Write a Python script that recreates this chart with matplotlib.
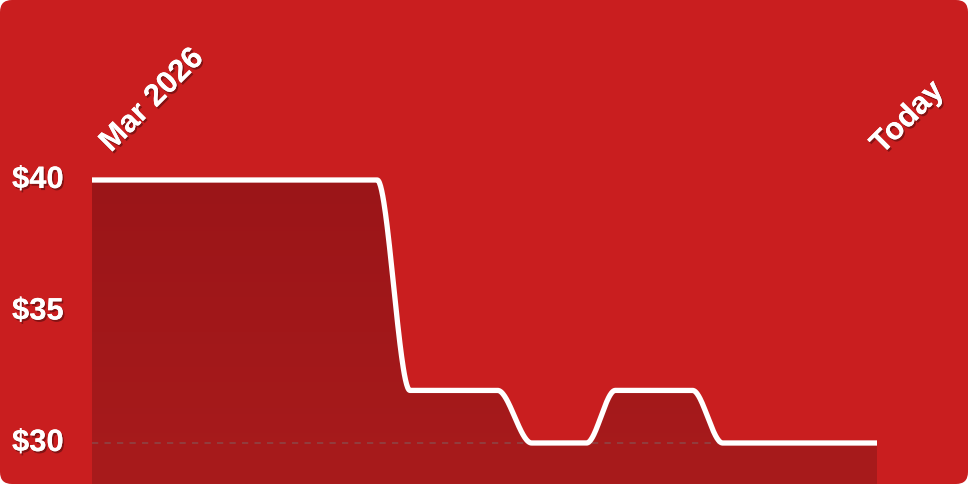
import numpy as np
import matplotlib
matplotlib.use("Agg")
from matplotlib import pyplot as plt
from matplotlib import patheffects as pe
from matplotlib.patches import FancyBboxPatch
from matplotlib.transforms import IdentityTransform, blended_transform_factory
from matplotlib.colors import LinearSegmentedColormap

plt.rcParams['font.family'] = ['Liberation Sans', 'DejaVu Sans']
plt.rcParams['lines.scale_dashes'] = False

# price history (days since start of Mar 2026)
days = [0, 21.8, 24.3, 31.0, 33.6, 37.8, 40.0, 45.9, 48.2, 60]
price = [40, 40, 32, 32, 30, 30, 32, 32, 30, 30]
tick_values = [40, 35, 30]
tick_labels = ["$40", "$35", "$30"]
start_label = "Mar 2026"
end_label = "Today"

BG = "#c91e1f"
W, H, DPI = 968, 484, 100
FS = 22.3


def monotone(x, y, n=60):
    # monotone cubic interpolation (like d3 curveMonotoneX)
    x = np.asarray(x, float); y = np.asarray(y, float)
    h = np.diff(x); s = np.diff(y) / h
    m = np.zeros_like(y)
    for i in range(1, len(y) - 1):
        if s[i-1] * s[i] > 0:
            m[i] = 2 / (1 / s[i-1] + 1 / s[i])
    m[0] = s[0]; m[-1] = s[-1]
    xs, ys = [], []
    for i in range(len(h)):
        t = np.linspace(0, 1, n)
        h00 = 2*t**3 - 3*t**2 + 1; h10 = t**3 - 2*t**2 + t
        h01 = -2*t**3 + 3*t**2; h11 = t**3 - t**2
        xs.append(x[i] + t*h[i])
        ys.append(h00*y[i] + h10*h[i]*m[i] + h01*y[i+1] + h11*h[i]*m[i+1])
    return np.concatenate(xs), np.concatenate(ys)


fig = plt.figure(figsize=(W/DPI, H/DPI), dpi=DPI, facecolor="white")
fig.patches.append(FancyBboxPatch((0, 0), W, H, boxstyle="round,pad=0,rounding_size=12",
                                  transform=IdentityTransform(), facecolor=BG, edgecolor="none",
                                  figure=fig, zorder=-10))

ax = fig.add_axes([0, 0, 1, 1])
ax.set_facecolor("none")
ax.axis("off")

# map pixel layout: x 92..877 px, $40 at 180 px, $30 at 443 px from top
px_day = (877 - 92) / (days[-1] - days[0])
ax.set_xlim(days[0] - 92/px_day, days[-1] + (W - 877)/px_day)
px_unit = (443 - 180) / 10
ax.set_ylim(30 - (H - 443)/px_unit, 40 + 180/px_unit)
y0 = ax.get_ylim()[0]

xs, ys = monotone(days, price)

fill = ax.fill_between(xs, ys, y0, facecolor="none", edgecolor="none")
cmap = LinearSegmentedColormap.from_list("f", ["#a81b1c", "#9b1518"])
grad = np.linspace(0, 1, 256).reshape(-1, 1)
img = ax.imshow(grad, cmap=cmap, aspect="auto", origin="lower",
                extent=[days[0], days[-1], y0, max(price)], zorder=1)
img.set_clip_path(fill.get_paths()[0], transform=ax.transData)

ax.plot([days[0], days[-1]], [30, 30], color="#8e4444", lw=1.2, dashes=[4.5, 4.5], zorder=2)

ax.plot(xs, ys, color="white", lw=3.8, solid_capstyle="butt", solid_joinstyle="round", zorder=3)

shadow = [pe.withSimplePatchShadow(offset=(1.2, -1.5), shadow_rgbFace="black", alpha=0.35), pe.Normal()]
trans = blended_transform_factory(fig.transFigure, ax.transData)
for v, lab in zip(tick_values, tick_labels):
    ax.text(12/W, v, lab, transform=trans, ha="left", va="center", color="white",
            fontsize=FS, fontweight="bold", path_effects=shadow, zorder=5)

ax.annotate(start_label, xy=(days[0], 40), xytext=(19, 27), textcoords="offset pixels",
            rotation=45, rotation_mode="anchor", ha="left", va="baseline", color="white",
            fontsize=FS, fontweight="bold", path_effects=shadow, zorder=5)
ax.annotate(end_label, xy=(days[-1], 40), xytext=(5, 25), textcoords="offset pixels",
            rotation=45, rotation_mode="anchor", ha="left", va="baseline", color="white",
            fontsize=FS, fontweight="bold", path_effects=shadow, zorder=5)

fig.savefig("out.png", dpi=DPI, facecolor="white")
